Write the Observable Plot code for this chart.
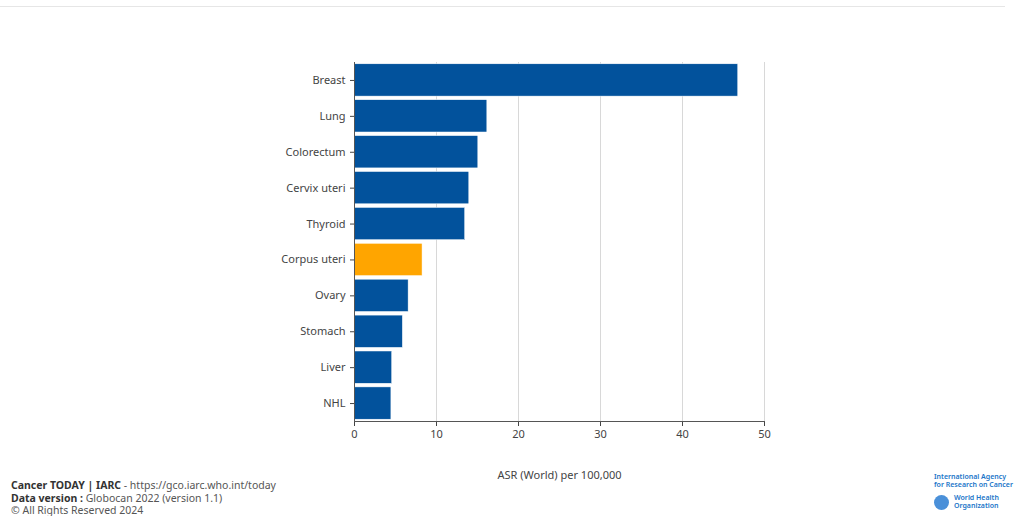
<!DOCTYPE html>
<html>
<head>
<meta charset="utf-8">
<script src="https://cdn.jsdelivr.net/npm/d3@7"></script>
<script src="https://cdn.jsdelivr.net/npm/@observablehq/plot@0.6"></script>
<style>
  html, body { margin: 0; padding: 0; background: #fff; }
  #wrap { position: relative; width: 1019px; height: 516px; overflow: hidden; font-family: "Noto Sans", "Open Sans", sans-serif; }
  #topline { position: absolute; left: 0; top: 6px; width: 1005px; height: 1px; background: #e6e6e6; }
  #chart { position: absolute; left: 0; top: 0; }
  #footer { position: absolute; left: 11px; top: 479px; font-size: 10.5px; line-height: 12.7px; color: #555; }
  #footer b { color: #333; }
  #logo { position: absolute; left: 934px; top: 473px; font-size: 7px; line-height: 8px; color: #1a75c9; font-weight: 600; }
  #logo .who { display: flex; align-items: center; margin-top: 5px; }
  #logo .emb { width: 15px; height: 15px; border-radius: 50%; background: #4a90d9; margin-right: 5px; }
</style>
</head>
<body>
<div id="wrap">
  <div id="topline"></div>
  <div id="chart"></div>
  <div id="footer">
    <div><b>Cancer TODAY | IARC</b> - https://gco.iarc.who.int/today</div>
    <div><b>Data version :</b> Globocan 2022 (version 1.1)</div>
    <div>© All Rights Reserved 2024</div>
  </div>
  <div id="logo">
    <div>International Agency<br>for Research on Cancer</div>
    <div class="who"><div class="emb"></div><div>World Health<br>Organization</div></div>
  </div>
</div>
<script>
const cancers = ["Breast", "Lung", "Colorectum", "Cervix uteri", "Thyroid", "Corpus uteri", "Ovary", "Stomach", "Liver", "NHL"];
const asr = [46.8, 16.2, 15.1, 14.0, 13.5, 8.3, 6.6, 5.9, 4.6, 4.5];
const highlight = "Corpus uteri";
const xTicks = [0, 10, 20, 30, 40, 50];

const data = cancers.map((c, i) => ({cancer: c, value: asr[i]}));

const chart = Plot.plot({
  width: 1019,
  height: 500,
  marginLeft: 354,
  marginRight: 255,
  marginTop: 62,
  marginBottom: 79,
  style: {fontFamily: "'Noto Sans', 'Open Sans', sans-serif", fontSize: "11px", color: "#444"},
  x: {domain: [0, 50], ticks: xTicks, label: "ASR (World) per 100,000"},
  y: {domain: cancers, label: null, paddingInner: 0.1, paddingOuter: 0.05, round: false},
  marks: [
    Plot.gridX(xTicks, {stroke: "#d8d8d8", strokeOpacity: 1}),
    Plot.barX(data, {x: "value", y: "cancer", fill: d => d.cancer === highlight ? "#FFA500" : "#02529c", stroke: "#ffffff", strokeWidth: 0.5}),
    Plot.axisX({ticks: xTicks, tickSize: 5, label: "ASR (World) per 100,000", labelAnchor: "center", labelArrow: "none", labelOffset: 57, fontSize: 11, color: "#444"}),
    Plot.axisY({tickSize: 4, label: null, fontSize: 11, color: "#444"}),
    Plot.ruleX([0], {stroke: "#555"}),
    Plot.frame({anchor: "bottom", stroke: "#555"})
  ]
});
document.getElementById("chart").appendChild(chart);
</script>
</body>
</html>
